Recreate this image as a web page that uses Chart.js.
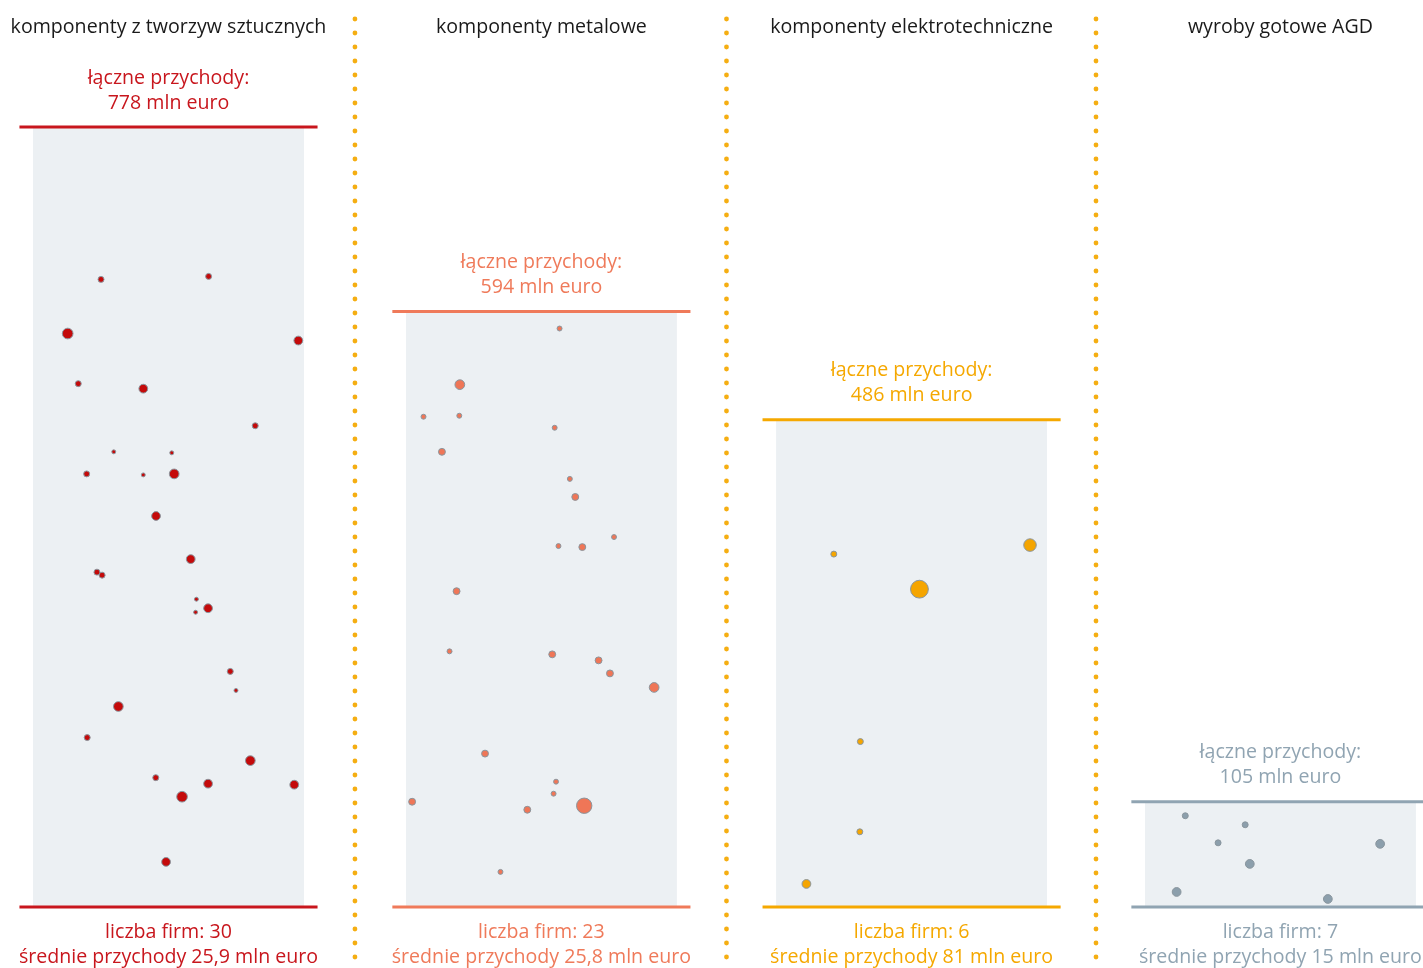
<!DOCTYPE html>
<html lang="pl">
<head>
<meta charset="utf-8">
<title>Przychody firm według branży</title>
<script src="https://cdn.jsdelivr.net/npm/chart.js@4.4.1/dist/chart.umd.min.js"></script>
<style>
  html, body { margin: 0; padding: 0; background: #fff; overflow: hidden; }
  #page { position: relative; width: 1423px; height: 968px; overflow: hidden; }
  /* canvas is 20px wider on each side so the bubble overflow padding falls outside the page */
  #wrap { position: absolute; left: -20px; top: 0; width: 1463px; height: 968px; }
</style>
</head>
<body>
<div id="page"><div id="wrap"><canvas id="chart"></canvas></div></div>
<script>
const categories = ['komponenty z tworzyw sztucznych', 'komponenty metalowe', 'komponenty elektrotechniczne', 'wyroby gotowe AGD'];
const totals = [778, 594, 486, 105];      // łączne przychody, mln euro
const firmCounts = [30, 23, 6, 7];
const averages = [25.9, 25.8, 81, 15];    // średnie przychody, mln euro

// one entry per firm: [place across the panel 0-100, height on the mln euro scale, revenue mln euro]
const firmsPlastics = [
  [25.1, 626, 21], [64.8, 629, 21], [12.8, 572, 83], [97.9, 565, 53], [16.7, 522, 21],
  [40.7, 517, 53], [82.0, 480, 21], [29.8, 454, 7], [51.2, 453, 7], [19.8, 432, 21],
  [40.7, 431, 7], [52.1, 432, 67], [45.4, 390, 53], [58.2, 347, 53], [23.6, 334, 21],
  [25.5, 331, 21], [60.3, 307, 7], [64.6, 298, 53], [60.0, 294, 7], [72.8, 235, 21],
  [74.9, 216, 7], [31.5, 200, 67], [20.0, 169, 21], [80.2, 146, 67], [45.3, 129, 21],
  [64.6, 123, 53], [96.4, 122, 53], [55.0, 110, 83], [49.1, 45, 53]
];
const firmsMetal = [
  [56.7, 577, 13], [19.9, 521, 67], [6.5, 489, 13], [19.7, 490, 13], [54.9, 478, 13],
  [13.3, 454, 30], [60.5, 427, 13], [62.5, 409, 30], [76.8, 369, 13], [56.3, 360, 13],
  [65.1, 359, 30], [18.7, 315, 30], [16.1, 255, 13], [54.0, 252, 30], [71.1, 246, 30],
  [75.3, 233, 30], [91.6, 219, 67], [29.2, 153, 30], [55.4, 125, 13], [54.5, 113, 13],
  [2.3, 105, 30], [44.8, 97, 30], [65.8, 101, 186], [34.9, 35, 13]
];
const firmsElectro = [
  [21.3, 352, 21], [93.7, 361, 119], [52.9, 317, 256], [31.1, 165, 21], [30.9, 75, 21], [11.2, 23, 53]
];
const firmsAppliances = [
  [14.9, 91, 21], [37.0, 82, 21], [27.0, 64, 21], [86.8, 63, 53], [38.7, 43, 53], [11.7, 15, 53], [67.5, 8, 53]
];
const firms = [firmsPlastics, firmsMetal, firmsElectro, firmsAppliances];

const colors = ['#c8161d', '#ef7a5a', '#f5a800', '#90a4b2'];
const bubbleColors = ['#c40a0a', '#ef7657', '#f5a500', '#8c9fac'];
const panelFill = '#ecf0f3';
const dotColor = '#f5ae12';

const PANEL_OFFSETS = [0, 137.6, 274.2, 410.3];  // left edge of each grey panel in x units (a panel is 100 wide)
const LINE_OVER = 5;         // how far the coloured lines stick out past the grey panel
const FONT = '"Open Sans", "Noto Sans", sans-serif';

const bubbleRadius = v => 0.6 + 0.52 * Math.sqrt(v);
const fmt = v => String(v).replace('.', ',');

const datasets = [];
categories.forEach((name, i) => {
  const off = PANEL_OFFSETS[i];
  datasets.push({
    type: 'line', order: 2, clip: false,
    data: [{ x: off, y: totals[i] }, { x: off + 100, y: totals[i] }],
    borderWidth: 0, pointRadius: 0, fill: 'origin', backgroundColor: panelFill
  });
  [totals[i], 0].forEach(v => datasets.push({
    type: 'line', order: 1, clip: false,
    data: [{ x: off - LINE_OVER, y: v }, { x: off + 100 + LINE_OVER, y: v }],
    borderColor: colors[i], borderWidth: 3, pointRadius: 0, fill: false
  }));
  datasets.push({
    type: 'bubble', order: 0, clip: false,
    data: firms[i].map(f => ({ x: off + f[0], y: f[1], r: bubbleRadius(f[2]) })),
    backgroundColor: bubbleColors[i], borderColor: '#8a969e', borderWidth: 1
  });
});

const labelsPlugin = {
  id: 'panelLabels',
  afterDraw(chart) {
    const { ctx, scales: { x, y } } = chart;
    ctx.save();
    ctx.textAlign = 'center';
    ctx.textBaseline = 'middle';
    ctx.font = '19.6px ' + FONT;

    // dotted separators between panels
    ctx.fillStyle = dotColor;
    for (let i = 0; i < categories.length - 1; i++) {
      const sx = (x.getPixelForValue(PANEL_OFFSETS[i] + 100) + x.getPixelForValue(PANEL_OFFSETS[i + 1])) / 2;
      for (let sy = 19; sy <= 960; sy += 14) {
        ctx.beginPath();
        ctx.arc(sx, sy, 2.4, 0, Math.PI * 2);
        ctx.fill();
      }
    }

    categories.forEach((name, i) => {
      const cx = x.getPixelForValue(PANEL_OFFSETS[i] + 50);
      const top = y.getPixelForValue(totals[i]);
      const base = y.getPixelForValue(0);
      ctx.fillStyle = '#1a1a1a';
      ctx.fillText(name, cx, 27);
      ctx.fillStyle = colors[i];
      ctx.fillText('łączne przychody:', cx, top - 49);
      ctx.fillText(totals[i] + ' mln euro', cx, top - 24);
      ctx.fillText('liczba firm: ' + firmCounts[i], cx, base + 25);
      ctx.fillText('średnie przychody ' + fmt(averages[i]) + ' mln euro', cx, base + 50);
    });
    ctx.restore();
  }
};

// chart area = the visible 1423px page; grey panel starts 33px in, 2.71px per x unit
const PX_PER_UNIT = 2.71;
new Chart(document.getElementById('chart'), {
  data: { datasets },
  options: {
    responsive: true,
    maintainAspectRatio: false,
    animation: false,
    events: [],
    layout: { padding: { top: 127, bottom: 61, left: 20, right: 20 } },
    scales: {
      x: { type: 'linear', display: false, min: -33 / PX_PER_UNIT, max: (1423 - 33) / PX_PER_UNIT },
      y: { type: 'linear', display: false, min: 0, max: totals[0] }
    },
    plugins: { legend: { display: false }, tooltip: { enabled: false } }
  },
  plugins: [labelsPlugin]
});
</script>
</body>
</html>
